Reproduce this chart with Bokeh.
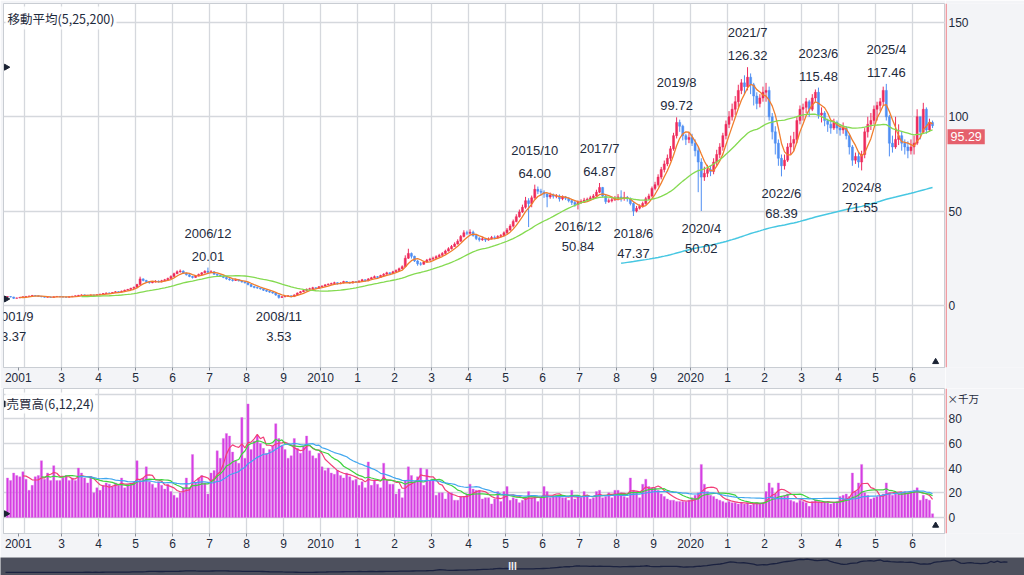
import math
import pandas as pd
from bokeh.plotting import figure
from bokeh.models import FixedTicker, Label, Range1d, ColumnDataSource, Span
from bokeh.layouts import column, row
from bokeh.embed import file_html
from bokeh.resources import INLINE
from bokeh.core.properties import value

# ---------------- data (monthly, 2001/7 .. 2026/7) ----------------
FIRST_MONTH = 6          # months since 2001/1  -> 2001/7
first_open = 4.4

close = [
    4.6, 4.4, 3.7, 3.9, 4.2, 4.5,                                         # 2001 (7-12)
    4.7, 4.9, 5.2, 5.0, 4.8, 4.5, 4.3, 4.4, 4.2, 4.5, 4.7, 4.5,          # 2002
    4.4, 4.3, 4.5, 4.8, 5.0, 5.3, 5.5, 5.4, 5.2, 5.5, 5.3, 5.6,          # 2003
    5.9, 6.2, 6.5, 6.4, 6.8, 7.2, 7.0, 7.5, 8.0, 8.4, 9.0, 9.6,          # 2004
    11.0, 14.0, 13.2, 12.5, 12.0, 12.3, 12.8, 12.4, 13.0, 13.5, 14.2, 15.3,  # 2005
    16.8, 17.8, 18.2, 17.0, 16.2, 15.3, 14.8, 15.6, 16.4, 17.2, 18.0, 17.5,  # 2006
    17.8, 16.5, 16.0, 15.5, 14.8, 14.0, 13.5, 13.2, 13.6, 13.0, 12.4, 12.0,  # 2007
    11.0, 10.0, 9.5, 9.2, 8.8, 8.0, 7.5, 7.0, 6.5, 5.5, 4.2, 4.5,        # 2008
    4.8, 5.0, 4.6, 5.5, 6.5, 7.2, 7.8, 8.5, 8.8, 9.3, 9.0, 9.8,          # 2009
    10.2, 10.8, 11.2, 11.5, 12.0, 11.4, 11.8, 12.6, 12.2, 11.8, 12.5, 12.3,  # 2010
    12.8, 13.5, 13.0, 14.0, 14.6, 15.2, 14.8, 15.8, 16.5, 17.2, 16.8, 17.8,  # 2011
    18.5, 19.4, 20.5, 25.0, 27.5, 26.0, 23.5, 22.0, 21.8, 23.0, 24.0, 24.5,  # 2012
    25.0, 25.8, 26.5, 27.5, 28.8, 30.0, 31.2, 32.5, 34.0, 36.5, 38.5, 38.2,  # 2013
    38.8, 37.0, 35.5, 34.8, 35.3, 34.6, 35.2, 36.0, 35.8, 36.5, 37.0, 38.5,  # 2014
    40.0, 42.0, 44.5, 47.0, 49.5, 52.0, 55.5, 54.0, 57.0, 61.5, 60.5, 60.0,  # 2015
    59.0, 57.5, 58.5, 57.8, 58.0, 56.5, 57.5, 56.8, 55.5, 54.5, 53.5, 54.5,  # 2016
    55.0, 55.8, 56.2, 57.0, 58.0, 60.0, 62.5, 58.0, 55.0, 55.5, 56.0, 56.8,  # 2017
    57.5, 56.8, 57.2, 56.5, 54.0, 50.0, 51.5, 52.5, 54.0, 56.5, 58.0, 62.0,  # 2018
    64.0, 68.0, 72.0, 75.0, 78.0, 83.0, 90.0, 97.0, 95.0, 90.0, 88.0, 89.0,  # 2019
    86.0, 82.0, 76.0, 68.0, 70.0, 72.0, 71.0, 76.0, 80.0, 84.0, 90.0, 96.0,  # 2020
    100, 104, 108, 114, 118, 116, 121, 117, 111, 107, 110, 113,          # 2021
    114, 100, 92, 86, 78, 74, 77, 84, 86, 88, 98, 104,                   # 2022
    105, 108, 104, 110, 113, 101, 102, 98, 96, 94, 97, 94,               # 2023
    93, 94, 90, 84, 77, 79, 76, 80, 92, 96, 98, 104,                     # 2024
    106, 108, 114, 100, 86, 84, 88, 90, 86, 84, 82, 84,                  # 2025
    86, 100, 92, 104, 93, 97, 95.29,                                     # 2026 (1-7)
]

high = [
    4.8, 4.8, 4.5, 4.1, 4.4, 4.7,
    4.9, 5.1, 5.5, 5.4, 5.1, 4.9, 4.6, 4.7, 4.5, 4.7, 4.9, 4.8,
    4.7, 4.6, 4.7, 5.0, 5.2, 5.5, 5.8, 5.7, 5.5, 5.7, 5.6, 5.8,
    6.1, 6.5, 6.8, 6.8, 7.0, 7.5, 7.4, 7.8, 8.3, 8.7, 9.3, 9.9,
    11.4, 15.2, 14.3, 13.5, 12.8, 12.9, 13.3, 13.2, 13.5, 14.0, 14.7, 15.9,
    17.3, 18.5, 19.0, 18.5, 17.3, 16.5, 15.6, 16.0, 16.8, 17.6, 18.6, 20.01,
    18.6, 18.0, 16.8, 16.3, 15.8, 15.1, 14.4, 13.9, 14.2, 13.9, 13.3, 12.8,
    12.1, 11.2, 10.3, 9.9, 9.5, 9.0, 8.3, 7.8, 7.2, 6.7, 5.6, 4.9,
    5.2, 5.4, 5.2, 5.8, 6.8, 7.6, 8.2, 8.9, 9.3, 9.8, 9.6, 10.2,
    10.6, 11.3, 11.6, 12.0, 12.5, 12.2, 12.2, 13.0, 12.9, 12.5, 12.9, 12.8,
    13.3, 14.0, 13.8, 14.4, 15.1, 15.8, 15.5, 16.2, 17.0, 17.8, 17.5, 18.3,
    19.0, 20.0, 21.2, 26.5, 30.0, 28.0, 26.3, 24.0, 23.0, 23.6, 24.6, 25.2,
    25.8, 26.5, 27.3, 28.2, 29.5, 30.8, 32.0, 33.4, 35.0, 37.3, 39.8, 39.6,
    40.3, 39.6, 37.5, 36.2, 36.3, 35.8, 36.0, 36.8, 37.0, 37.2, 37.8, 39.2,
    41.0, 43.0, 45.5, 48.3, 50.8, 53.4, 57.5, 56.8, 58.2, 64.0, 63.0, 61.8,
    61.0, 59.5, 59.8, 59.3, 59.0, 58.8, 58.3, 58.0, 57.3, 56.2, 55.5, 55.6,
    56.2, 57.0, 57.1, 58.1, 59.0, 61.3, 64.87, 62.8, 58.6, 56.7, 57.8, 58.0,
    59.0, 61.0, 60.2, 58.0, 57.2, 54.6, 52.7, 53.5, 55.0, 57.5, 59.2, 63.0,
    65.5, 69.5, 73.4, 76.8, 80.0, 84.5, 91.5, 99.72, 98.5, 95.8, 91.0, 91.5,
    91.0, 88.0, 84.0, 78.0, 73.5, 74.5, 74.0, 78.0, 82.5, 86.0, 91.5, 98.0,
    103, 107, 111, 117, 120, 122, 126.32, 123, 118, 113, 112, 116,
    118, 116, 102, 95, 88, 80, 80, 86, 90, 92, 100, 106,
    107, 110, 109, 112, 114.5, 115.48, 105, 103, 99, 98, 99, 98,
    96, 97, 95, 91, 85, 81, 81, 82, 94, 100, 102, 106,
    108, 110, 116, 117.46, 101, 90, 100, 96, 92, 88, 87, 88,
    90, 104, 100, 107.4, 105, 99, 98,
]

low = [
    4.3, 4.2, 3.37, 3.6, 3.8, 4.1,
    4.3, 4.5, 4.8, 4.8, 4.6, 4.3, 4.1, 4.1, 4.0, 4.1, 4.4, 4.3,
    4.2, 4.1, 4.2, 4.4, 4.7, 4.9, 5.2, 5.2, 5.0, 5.1, 5.1, 5.2,
    5.5, 5.8, 6.1, 6.1, 6.3, 6.7, 6.8, 6.9, 7.4, 7.9, 8.3, 8.8,
    9.4, 10.8, 12.7, 12.0, 11.5, 11.7, 12.1, 12.0, 12.2, 12.8, 13.4, 14.0,
    15.1, 16.5, 17.3, 16.6, 15.8, 14.9, 14.2, 14.6, 15.3, 16.1, 16.9, 17.1,
    17.0, 16.2, 15.5, 15.0, 14.4, 13.6, 13.1, 12.6, 12.9, 12.6, 12.0, 11.5,
    10.6, 9.6, 9.0, 8.7, 8.3, 7.6, 7.1, 6.6, 6.1, 5.0, 3.53, 4.0,
    4.3, 4.6, 4.2, 4.5, 5.4, 6.3, 7.0, 7.6, 8.3, 8.6, 8.6, 8.9,
    9.6, 10.0, 10.6, 11.0, 11.3, 11.0, 11.2, 11.6, 11.9, 11.4, 11.6, 11.9,
    12.1, 12.7, 12.5, 12.8, 13.8, 14.4, 14.3, 14.6, 15.6, 16.3, 16.3, 16.6,
    17.6, 18.2, 19.1, 20.2, 24.6, 24.8, 23.0, 21.0, 21.0, 21.5, 22.6, 23.5,
    24.1, 24.6, 25.4, 26.2, 27.2, 28.5, 29.6, 31.0, 32.2, 33.7, 36.0, 37.2,
    37.5, 36.4, 34.6, 33.8, 34.2, 33.6, 34.3, 35.0, 35.0, 35.4, 36.2, 36.5,
    37.8, 39.5, 41.3, 44.0, 46.5, 49.0, 51.2, 41.5, 52.0, 56.5, 59.0, 58.3,
    57.0, 52.0, 56.5, 56.6, 56.8, 55.0, 55.7, 55.8, 54.6, 53.2, 52.3, 50.84,
    53.8, 54.4, 55.0, 55.6, 56.4, 57.6, 59.5, 57.2, 53.8, 54.3, 54.6, 55.3,
    55.6, 55.0, 55.5, 55.0, 53.0, 47.37, 49.3, 50.8, 51.8, 53.4, 55.8, 57.3,
    61.0, 63.0, 66.8, 70.5, 73.8, 76.5, 82.0, 88.5, 92.0, 87.5, 85.0, 86.0,
    84.5, 79.0, 60.0, 50.02, 66.0, 68.0, 68.5, 69.5, 74.0, 78.0, 82.0, 88.0,
    94, 98, 101, 105, 112, 112, 114, 112, 106, 104, 105, 108,
    108, 98, 88, 80, 74, 68.39, 72, 76, 80, 82, 86, 96,
    98, 102, 100, 103, 108, 99, 97, 95, 92, 91, 93, 91,
    90, 91, 88, 80, 74, 75, 73, 71.55, 78, 89, 93, 96,
    98, 103, 106, 98, 79, 81, 83, 85, 82, 80, 78, 80,
    80, 85, 88, 91, 91, 92, 94,
]

# 売買高 (x 千万)
volume = [
    32, 30, 36, 34, 33, 37,
    31, 22, 26, 33, 34, 46, 31, 36, 30, 42, 30, 30,
    32, 34, 30, 32, 30, 40, 36, 32, 28, 33, 20, 24,
    22, 26, 28, 27, 25, 28, 26, 32, 24, 27, 28, 29,
    46, 30, 32, 41, 29, 27, 24, 29, 26, 23, 27, 21,
    18, 16, 20, 24, 32, 24, 51, 28, 32, 34, 28, 19,
    36, 38, 54, 48, 64, 68, 66, 53, 46, 44, 81, 48,
    92, 55, 62, 66, 60, 56, 52, 55, 58, 76, 64, 58,
    55, 48, 50, 64, 56, 52, 58, 66, 54, 50, 48, 52,
    41, 38, 40, 36, 35, 38, 34, 32, 36, 33, 30, 31,
    26, 29, 24, 45, 26, 30, 27, 24, 44, 30, 27, 27,
    19, 23, 16, 30, 41, 34, 29, 33, 40, 26, 39, 30,
    30, 18, 20, 20, 15, 20, 20, 14, 14, 17, 17, 19,
    27, 23, 22, 22, 15, 16, 16, 11, 15, 21, 13, 21,
    25, 14, 16, 15, 12, 14, 16, 21, 16, 17, 13, 16,
    25, 21, 16, 18, 18, 17, 16, 16, 14, 22, 15, 17,
    16, 21, 18, 15, 16, 21, 22, 16, 17, 20, 16, 22,
    22, 20, 17, 16, 32, 22, 21, 16, 27, 31, 25, 24,
    24, 22, 19, 17, 15, 14, 14, 13, 13, 13, 13, 14,
    16, 18, 20, 43, 27, 21, 18, 17, 15, 14, 13, 12,
    13, 12, 12, 11, 12, 11, 12, 10, 11, 12, 11, 12,
    21, 28, 24, 19, 28, 17, 18, 19, 14, 13, 12, 14,
    13, 12, 9, 13, 14, 13, 12, 13, 12, 11, 12, 13,
    17, 18, 19, 17, 36, 21, 28, 43, 20, 18, 15, 16,
    17, 18, 19, 28, 20, 18, 19, 19, 20, 21, 20, 21,
    22, 24, 14, 18, 15, 14, 3,
]

tick_months = [10] + list(range(24, 301, 12))
tick_labels = ["2001", "3", "4", "5", "6", "7", "8", "9", "2010",
               "1", "2", "3", "4", "5", "6", "7", "8", "9", "2020",
               "1", "2", "3", "4", "5", "6"]
grid_months = list(range(12, 301, 12))
price_ticks = [0, 50, 100, 150]
volume_ticks = [0, 20, 40, 60, 80]
volume_grid = [0, 20, 40, 60, 80, 100]

peak_dates = ["2006/12", "2015/10", "2017/7", "2019/8", "2021/7", "2023/6", "2025/4"]
peak_values = [20.01, 64.00, 64.87, 99.72, 126.32, 115.48, 117.46]
trough_dates = ["2001/9", "2008/11", "2016/12", "2018/6", "2020/4", "2022/6", "2024/8"]
trough_values = [3.37, 3.53, 50.84, 47.37, 50.02, 68.39, 71.55]

price_ma_periods = [5, 25, 200]
volume_ma_periods = [6, 12, 24]

# ---------------- derived ----------------
n = min(len(close), len(high), len(low), len(volume))
close, high, low, volume = close[:n], high[:n], low[:n], volume[:n]
xs = [FIRST_MONTH + i + 0.5 for i in range(n)]          # candle centred in its month
opens = [first_open] + close[:-1]
hi = [max(h, o, c) for h, o, c in zip(high, opens, close)]
lo = [min(l, o, c) for l, o, c in zip(low, opens, close)]
UP, DOWN = "#ee2b5c", "#4f8ef3"
colors = [UP if c >= o else DOWN for o, c in zip(opens, close)]
src = ColumnDataSource(dict(
    x=xs, o=opens, c=close, h=hi, l=lo, v=volume, col=colors,
    top=[max(o, c) for o, c in zip(opens, close)],
    bot=[min(o, c) for o, c in zip(opens, close)],
))
cs = pd.Series(close)
vs = pd.Series(volume, dtype=float)

def month_pos(d):
    y, m = d.split("/")
    return (int(y) - 2001) * 12 + int(m) - 1 + 0.5

NUMFONT = "Liberation Sans"
JPFONT = "Noto Sans CJK JP"
TXT = "#1e2a3c"
GRID = "#d5d8dd"
BORDER_BG = "#f3f4f7"
RED_AXIS = "#ef7f86"
PRICE_TAG = "#e5606c"
XR = Range1d(5.2, 310.7)
YR_PRICE = Range1d(-33, 160.1)
YR_VOL = Range1d(-13, 104.5)
MAIN_W, SIDE_W = 945, 79

def style_main(fig, ygrid):
    fig.xgrid.ticker = FixedTicker(ticks=grid_months, minor_ticks=[])
    fig.ygrid.ticker = FixedTicker(ticks=ygrid, minor_ticks=[])
    fig.grid.grid_line_color = GRID
    fig.grid.grid_line_width = 1.3
    ax = fig.xaxis[0]
    ax.ticker = FixedTicker(ticks=tick_months, minor_ticks=[])
    ax.major_label_overrides = dict(zip(tick_months, tick_labels))
    ax.major_label_text_font = NUMFONT
    ax.major_label_text_font_size = "12px"
    ax.major_label_text_color = TXT
    ax.axis_line_color = "#c9cdd3"
    ax.major_tick_line_color = "#8a9099"
    ax.major_tick_out = 3
    ax.major_tick_in = 0
    ax.minor_tick_line_color = None
    ax.major_label_standoff = 2

def side_panel(height, yr, top, bottom, ticks):
    s = figure(width=SIDE_W, height=height, x_range=Range1d(0, SIDE_W), y_range=yr,
               output_backend="svg", toolbar_location=None, x_axis_location=None,
               y_axis_location=None, min_border_left=0, min_border_right=0,
               min_border_top=top, min_border_bottom=bottom,
               background_fill_color=BORDER_BG, border_fill_color=BORDER_BG,
               outline_line_color=None)
    s.grid.visible = False
    s.add_layout(Span(location=0.6, dimension="height", line_color=RED_AXIS, line_width=1.3))
    s.text([3] * len(ticks), ticks, text=[str(t) for t in ticks], text_baseline="middle",
           text_align="left", text_font=value(NUMFONT), text_font_size="12px", text_color=TXT)
    return s

# ---------------- price panel ----------------
p = figure(width=MAIN_W, height=388, x_range=XR, y_range=YR_PRICE,
           output_backend="svg", toolbar_location=None, y_axis_location=None,
           min_border_left=3, min_border_top=3, min_border_right=0, min_border_bottom=21,
           background_fill_color="white", border_fill_color=BORDER_BG,
           outline_line_color="#c9cdd3")
style_main(p, price_ticks)

p.segment(x0="x", y0="h", x1="x", y1="l", color="col", line_width=1, source=src)
p.vbar(x="x", width=0.66, top="top", bottom="bot", fill_color="col", line_color="col",
       line_width=0.5, source=src)

for per, col, lw in zip(price_ma_periods, ["#f07d2c", "#84da50", "#47c7e2"], [1.3, 1.3, 1.5]):
    p.line(xs, cs.rolling(per).mean().tolist(), line_color=col, line_width=lw)

px = [month_pos(d) for d in peak_dates]
tx = [month_pos(d) for d in trough_dates]
common_txt = dict(text_font=value(NUMFONT), text_font_size="13px", text_color=TXT, text_align="center")
p.text(px, peak_values, text=peak_dates, text_baseline="bottom", y_offset=-27, **common_txt)
p.text(px, peak_values, text=[f"{v:.2f}" for v in peak_values], text_baseline="bottom", y_offset=-7, **common_txt)
p.text(tx, trough_values, text=trough_dates, text_baseline="top", y_offset=10, **common_txt)
p.text(tx, trough_values, text=[f"{v:.2f}" for v in trough_values], text_baseline="top", y_offset=33, **common_txt)

p.scatter([XR.start + 0.9] * 2, [max(hi), min(lo)], marker="triangle", size=6,
          angle=-math.pi / 2, color="#1a2233")
p.scatter([xs[-1] + 1], [-30], marker="triangle", size=6, color="#1a2233")

p.add_layout(Label(x=2, y=YR_PRICE.end, x_units="screen", y_units="data", y_offset=-3,
                   text="移動平均(5,25,200)", text_baseline="top", text_font=JPFONT,
                   text_font_size="12.5px", text_color=TXT, background_fill_color="white",
                   background_fill_alpha=0.85, padding=2))
# left part of the last-price tag, overlapping the plot edge
last_txt = f"{close[-1]:.2f}"
p.add_layout(Label(x=MAIN_W - 3 - 9, y=close[-1], x_units="screen", y_units="data", y_offset=-11,
                   text=last_txt, text_baseline="middle", text_font=NUMFONT,
                   text_font_size="12.5px", text_color=PRICE_TAG, text_alpha=0.0,
                   background_fill_color=PRICE_TAG, padding=3))

ps = side_panel(388, YR_PRICE, 3, 21, price_ticks)
ps.add_layout(Label(x=2, y=close[-1], x_units="data", y_units="data", y_offset=-11,
                    text=last_txt, text_baseline="middle", text_font=NUMFONT,
                    text_font_size="12.5px", text_color="white", background_fill_color=PRICE_TAG,
                    padding=3))

# ---------------- volume panel ----------------
p2 = figure(width=MAIN_W, height=169, x_range=XR, y_range=YR_VOL,
            output_backend="svg", toolbar_location=None, y_axis_location=None,
            min_border_left=3, min_border_top=0, min_border_right=0, min_border_bottom=24,
            background_fill_color="white", border_fill_color=BORDER_BG,
            outline_line_color="#c9cdd3")
style_main(p2, volume_grid)
p2.vbar(x="x", width=0.7, top="v", bottom=0, fill_color="#d53de3", line_color="#e07ae9",
        line_width=0.4, source=src)
for per, col in zip(volume_ma_periods, ["#f23e78", "#3fd23f", "#41a7ef"]):
    p2.line(xs, vs.rolling(per).mean().tolist(), line_color=col, line_width=1.2)
p2.scatter([XR.start + 0.9] * 2, [max(volume), min(volume)], marker="triangle", size=6,
           angle=-math.pi / 2, color="#1a2233")
p2.scatter([xs[-1] + 1], [-6.5], marker="triangle", size=6, color="#1a2233")
p2.add_layout(Label(x=2, y=YR_VOL.end, x_units="screen", y_units="data", y_offset=-4,
                    text="売買高(6,12,24)", text_baseline="top", text_font=JPFONT,
                    text_font_size="12.5px", text_color=TXT, background_fill_color="white",
                    background_fill_alpha=0.85, padding=1))

p2s = side_panel(169, YR_VOL, 0, 24, volume_ticks)
p2s.text([2], [YR_VOL.end], text=["×千万"], text_baseline="top", text_align="left", y_offset=2,
         text_font=value(JPFONT), text_font_size="10.5px", text_color=TXT)

# ---------------- navigator ----------------
p3 = figure(width=MAIN_W + SIDE_W, height=18, x_range=Range1d(5.0, 311.6), y_range=Range1d(-23, 135),
            output_backend="svg", toolbar_location=None, x_axis_location=None,
            y_axis_location=None, min_border=0, background_fill_color="#4d505d",
            border_fill_color="#4d505d", outline_line_color=None)
p3.grid.visible = False
p3.line(xs, close, line_color="#1b2240", line_width=1.3)
p3.add_layout(Label(x=512, y=9, x_units="screen", y_units="screen", text="III",
                    text_align="center", text_baseline="middle", text_font=NUMFONT,
                    text_font_style="bold", text_font_size="10px", text_color="#f0f0f4"))

layout = column(row(p, ps, spacing=0), row(p2, p2s, spacing=0), p3, spacing=0)
open("out.html", "w").write(file_html(layout, INLINE))
